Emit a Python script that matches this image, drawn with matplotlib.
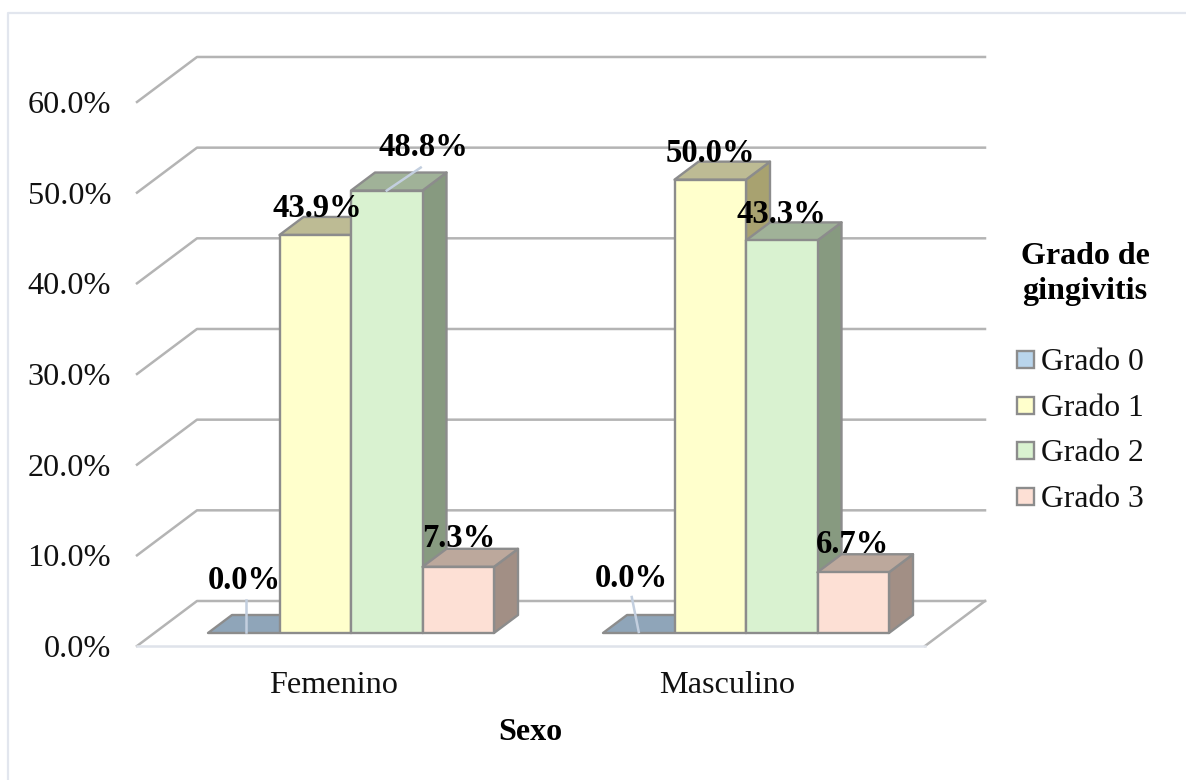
import matplotlib
matplotlib.use("Agg")
import matplotlib.pyplot as plt
from matplotlib.patches import Polygon, Rectangle

plt.rcParams["font.family"] = ["Liberation Serif", "DejaVu Serif"]

# data
categories = ["Femenino", "Masculino"]
series_names = ["Grado 0", "Grado 1", "Grado 2", "Grado 3"]
grado_0 = [0.0, 0.0]
grado_1 = [43.9, 50.0]
grado_2 = [48.8, 43.3]
grado_3 = [7.3, 6.7]
y_ticks = [0, 10, 20, 30, 40, 50, 60]
x_title = "Sexo"
legend_title = ["Grado de", "gingivitis"]

# oblique projection of the excel 3d chart, in pixels
PX_PER_PCT = 9.067
FLOOR_FRONT_Y = 646
WALL_LEFT, WALL_RIGHT = 137, 925
WALL_DX, WALL_DY = 60, -45
BAR_BASE_Y = 633
BAR_W = 71.5
BAR_DX, BAR_DY = 24, -18
GROUP_LEFT = [208, 603]

FRONT = ["#b9d5ec", "#ffffcc", "#d9f2d0", "#fde0d5"]
TOP = ["#8fa5b9", "#bdbb94", "#a0b298", "#bca89c"]
SIDE = ["#7f93a5", "#a8a270", "#879a80", "#a28f85"]
EDGE = "#8c8c8c"
GRID = "#b4b4b4"
LEADER = "#c3cfdf"
TEXT_DY = 3.5

# label shifts from the top centre of each bar: (series, group) -> dx, dy
LABEL_SHIFT = {
    (0, 0): (1, -56), (1, 0): (2, -30), (2, 0): (37, -47), (3, 0): (1, -32),
    (0, 1): (-7, -58), (1, 1): (0, -30), (2, 1): (0, -29), (3, 1): (-1, -31),
}


def y_front(value):
    return FLOOR_FRONT_Y - value * PX_PER_PCT


def y_bar(value):
    return BAR_BASE_Y - value * PX_PER_PCT


def draw_bar(ax, left, value, idx):
    right = left + BAR_W
    top = y_bar(value)
    style = dict(edgecolor=EDGE, linewidth=1.7, joinstyle="round")
    ax.add_patch(Polygon(
        [(right, BAR_BASE_Y), (right + BAR_DX, BAR_BASE_Y + BAR_DY),
         (right + BAR_DX, top + BAR_DY), (right, top)],
        facecolor=SIDE[idx], **style))
    ax.add_patch(Polygon(
        [(left, top), (right, top), (right + BAR_DX, top + BAR_DY),
         (left + BAR_DX, top + BAR_DY)],
        facecolor=TOP[idx], **style))
    if value > 0:
        ax.add_patch(Rectangle((left, top), BAR_W, value * PX_PER_PCT,
                               facecolor=FRONT[idx], **style))


fig = plt.figure(figsize=(11.86, 7.8), dpi=100)
ax = fig.add_axes([0, 0, 1, 1])
ax.set_xlim(0, 1186)
ax.set_ylim(780, 0)
ax.axis("off")

# chart frame
ax.plot([8, 8, 1186], [780, 12.5, 12.5], color="#e2e6ee", lw=1.6)

# walls
for tick in y_ticks:
    y = y_front(tick)
    ax.plot([WALL_LEFT, WALL_LEFT + WALL_DX, WALL_RIGHT + WALL_DX],
            [y, y + WALL_DY, y + WALL_DY], color=GRID, lw=1.8, zorder=1)
    ax.text(111, y + TEXT_DY, f"{tick:.1f}%", ha="right", va="center",
            fontsize=23.2, color="#111111")

# floor
floor_back = y_front(0) + WALL_DY
ax.plot([WALL_RIGHT + WALL_DX, WALL_RIGHT], [floor_back, y_front(0)],
        color=GRID, lw=1.8, zorder=1)
ax.plot([WALL_LEFT, WALL_RIGHT], [y_front(0), y_front(0)],
        color="#dfe3ea", lw=1.8, zorder=1)

# bars
all_series = [grado_0, grado_1, grado_2, grado_3]
for g, left in enumerate(GROUP_LEFT):
    for s, values in enumerate(all_series):
        draw_bar(ax, left + s * BAR_W, values[g], s)

# leader lines to the data labels
for g, left in enumerate(GROUP_LEFT):
    zero_x = left + 0.5 * BAR_W
    ax.plot([zero_x + [2, 0][g], zero_x + [2, -7][g]],
            [BAR_BASE_Y - 1, BAR_BASE_Y - [33, 36][g]],
            color=LEADER, lw=1.8, zorder=5)
bar2_x = GROUP_LEFT[0] + 2.5 * BAR_W
ax.plot([bar2_x, bar2_x + 34], [y_bar(grado_2[0]), y_bar(grado_2[0]) - 23],
        color=LEADER, lw=1.8, zorder=5)

# data labels
for g, left in enumerate(GROUP_LEFT):
    for s, values in enumerate(all_series):
        dx, dy = LABEL_SHIFT[(s, g)]
        ax.text(left + (s + 0.5) * BAR_W + dx, y_bar(values[g]) + dy + TEXT_DY,
                f"{values[g]:.1f}%", ha="center", va="center", fontsize=23.5,
                fontweight="bold", color="black", zorder=6)

# axis labels
for name, x in zip(categories, [334, 727]):
    ax.text(x, 682 + TEXT_DY, name, ha="center", va="center", fontsize=23.2,
            color="#111111")
ax.text(530, 729 + TEXT_DY, x_title, ha="center", va="center", fontsize=23,
        fontweight="bold", color="black")

# legend
for line, y in zip(legend_title, [255, 291]):
    ax.text(1085, y + 1, line, ha="center", va="center", fontsize=23,
            fontweight="bold", color="black")
for s, (name, y) in enumerate(zip(series_names, [359, 405, 450, 496])):
    ax.add_patch(Rectangle((1017, y - 8.5), 17, 17, facecolor=FRONT[s],
                           edgecolor=EDGE, linewidth=1.7))
    ax.text(1041, y + TEXT_DY, name, ha="left", va="center", fontsize=22.8,
            color="#111111")

fig.savefig("out.png", dpi=100)
